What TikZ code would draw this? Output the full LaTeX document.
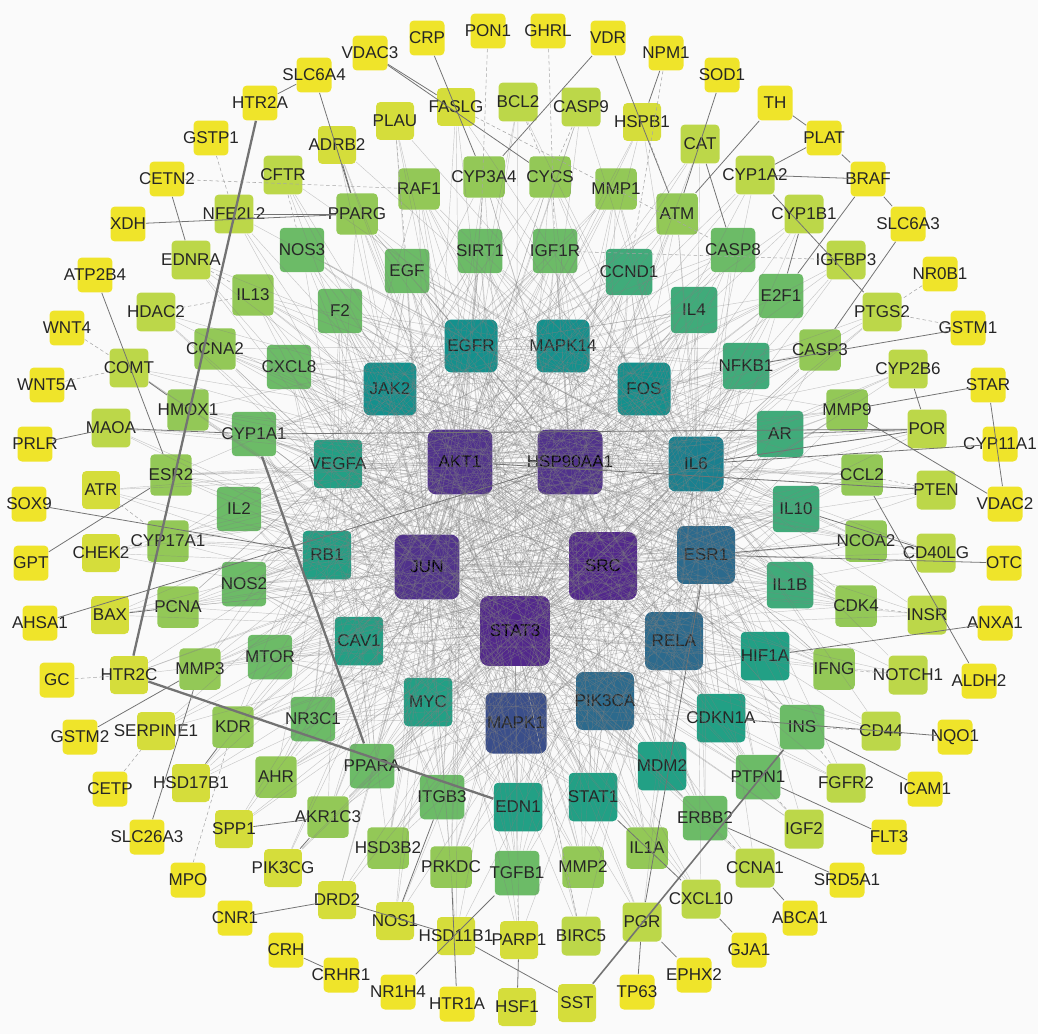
\documentclass[tikz,border=0pt]{standalone}
\usepackage{fontspec}
\setmainfont{Liberation Sans}
\definecolor{bgc}{HTML}{FAFAFA}
\definecolor{c1}{HTML}{EFE42A}
\definecolor{c2}{HTML}{D5DD3B}
\definecolor{c3}{HTML}{BCD749}
\definecolor{c4}{HTML}{93C857}
\definecolor{c5}{HTML}{6CBB67}
\definecolor{c6}{HTML}{40AB7A}
\definecolor{c7}{HTML}{22A085}
\definecolor{c8}{HTML}{14918D}
\definecolor{c9}{HTML}{1A808F}
\definecolor{c10}{HTML}{2C6A8D}
\definecolor{c11}{HTML}{3A4E8A}
\definecolor{c12}{HTML}{50318C}
\definecolor{c13}{HTML}{52278C}
\begin{document}
\begin{tikzpicture}[x=0.02cm, y=-0.02cm,
        gene/.style={rectangle, rounded corners=2.5pt, inner sep=0pt, text=black!85,
            font=\fontsize{9.7}{11}\selectfont,
            execute at begin node={\hbox to 0pt\bgroup\hss},
            execute at end node={\hss\egroup}},
        l1/.style={gene, fill=c1, minimum size=0.70cm},
        l2/.style={gene, fill=c2, minimum size=0.76cm},
        l3/.style={gene, fill=c3, minimum size=0.78cm},
        l4/.style={gene, fill=c4, minimum size=0.83cm},
        l5/.style={gene, fill=c5, minimum size=0.89cm},
        l6/.style={gene, fill=c6, minimum size=0.93cm},
        l7/.style={gene, fill=c7, minimum size=0.97cm},
        l8/.style={gene, fill=c8, minimum size=1.06cm, rounded corners=4pt},
        l9/.style={gene, fill=c9, minimum size=1.10cm, rounded corners=4pt},
        l10/.style={gene, fill=c10, minimum size=1.16cm, rounded corners=4pt},
        l11/.style={gene, fill=c11, minimum size=1.22cm, rounded corners=4pt},
        l12/.style={gene, fill=c12, text=black, minimum size=1.30cm, rounded corners=5pt},
        l13/.style={gene, fill=c13, text=black, minimum size=1.36cm, rounded corners=5pt},
        web/.style={gray, line width=0.25pt, opacity=0.42},
        faint/.style={gray!70, line width=0.3pt, dashed, dash pattern=on 2pt off 1.5pt},
        link/.style={black!55, line width=0.45pt},
        heavy/.style={black!55, line width=1.3pt}]
    \fill[bgc] (0,0) rectangle (1038,1034);

    % outer ring
    \node[l1] (VDAC3) at (370,53) {VDAC3};
    \node[l1] (CRP) at (427,38) {CRP};
    \node[l1] (PON1) at (488,31) {PON1};
    \node[l1] (GHRL) at (548,31) {GHRL};
    \node[l1] (VDR) at (608,38) {VDR};
    \node[l1] (NPM1) at (666,53) {NPM1};
    \node[l1] (SOD1) at (722,75) {SOD1};
    \node[l1] (TH) at (775,103) {TH};
    \node[l1] (PLAT) at (824,138) {PLAT};
    \node[l1] (BRAF) at (868,179) {BRAF};
    \node[l1] (SLC6A3) at (908,224) {SLC6A3};
    \node[l1] (NR0B1) at (940,274) {NR0B1};
    \node[l1] (GSTM1) at (968,328) {GSTM1};
    \node[l1] (STAR) at (988,385) {STAR};
    \node[l1] (CYP11A1) at (1000,444) {CYP11A1};
    \node[l1] (VDAC2) at (1005,504) {VDAC2};
    \node[l1] (OTC) at (1004,563) {OTC};
    \node[l1] (ANXA1) at (995,623) {ANXA1};
    \node[l1] (ALDH2) at (979,681) {ALDH2};
    \node[l1] (NQO1) at (955,737) {NQO1};
    \node[l1] (ICAM1) at (925,789) {ICAM1};
    \node[l1] (FLT3) at (889,837) {FLT3};
    \node[l1] (SRD5A1) at (847,880) {SRD5A1};
    \node[l1] (ABCA1) at (800,918) {ABCA1};
    \node[l1] (GJA1) at (749,950) {GJA1};
    \node[l1] (EPHX2) at (694,975) {EPHX2};
    \node[l1] (TP63) at (637,992) {TP63};
    \node[l2] (SST) at (577,1003) {SST};
    \node[l2] (HSF1) at (517,1007) {HSF1};
    \node[l1] (HTR1A) at (457,1004) {HTR1A};
    \node[l1] (NR1H4) at (398,992) {NR1H4};
    \node[l1] (CRHR1) at (341,975) {CRHR1};
    \node[l1] (CRH) at (286,950) {CRH};
    \node[l1] (CNR1) at (235,918) {CNR1};
    \node[l1] (MPO) at (188,880) {MPO};
    \node[l1] (SLC26A3) at (147,837) {SLC26A3};
    \node[l1] (CETP) at (110,789) {CETP};
    \node[l1] (GSTM2) at (80,737) {GSTM2};
    \node[l1] (GC) at (57,680) {GC};
    \node[l1] (AHSA1) at (40,623) {AHSA1};
    \node[l1] (GPT) at (31,563) {GPT};
    \node[l1] (SOX9) at (29,504) {SOX9};
    \node[l1] (PRLR) at (35,444) {PRLR};
    \node[l1] (WNT5A) at (47,385) {WNT5A};
    \node[l1] (WNT4) at (67,328) {WNT4};
    \node[l1] (ATP2B4) at (95,275) {ATP2B4};
    \node[l1] (XDH) at (128,224) {XDH};
    \node[l1] (CETN2) at (167,179) {CETN2};
    \node[l1] (GSTP1) at (211,138) {GSTP1};
    \node[l1] (HTR2A) at (260,103) {HTR2A};
    \node[l1] (SLC6A4) at (314,75) {SLC6A4};

    % second ring
    \node[l2] (FASLG) at (456,107) {FASLG};
    \node[l3] (BCL2) at (518,102) {BCL2};
    \node[l3] (CASP9) at (581,107) {CASP9};
    \node[l2] (HSPB1) at (642,122) {HSPB1};
    \node[l3] (CAT) at (700,144) {CAT};
    \node[l3] (CYP1A2) at (755,175) {CYP1A2};
    \node[l3] (CYP1B1) at (804,214) {CYP1B1};
    \node[l3] (IGFBP3) at (846,260) {IGFBP3};
    \node[l3] (PTGS2) at (882,312) {PTGS2};
    \node[l3] (CYP2B6) at (908,369) {CYP2B6};
    \node[l3] (POR) at (927,429) {POR};
    \node[l3] (PTEN) at (936,490) {PTEN};
    \node[l3] (CD40LG) at (936,553) {CD40LG};
    \node[l3] (INSR) at (927,615) {INSR};
    \node[l3] (NOTCH1) at (908,675) {NOTCH1};
    \node[l3] (CD44) at (881,731) {CD44};
    \node[l3] (FGFR2) at (846,783) {FGFR2};
    \node[l3] (IGF2) at (804,829) {IGF2};
    \node[l3] (CCNA1) at (755,868) {CCNA1};
    \node[l3] (CXCL10) at (701,899) {CXCL10};
    \node[l3] (PGR) at (642,922) {PGR};
    \node[l3] (BIRC5) at (581,936) {BIRC5};
    \node[l2] (PARP1) at (519,940) {PARP1};
    \node[l2] (HSD11B1) at (456,936) {HSD11B1};
    \node[l2] (NOS1) at (395,921) {NOS1};
    \node[l2] (DRD2) at (337,900) {DRD2};
    \node[l2] (PIK3CG) at (283,868) {PIK3CG};
    \node[l2] (SPP1) at (234,829) {SPP1};
    \node[l2] (HSD17B1) at (191,783) {HSD17B1};
    \node[l2] (SERPINE1) at (156,731) {SERPINE1};
    \node[l2] (HTR2C) at (129,675) {HTR2C};
    \node[l2] (BAX) at (110,615) {BAX};
    \node[l2] (CHEK2) at (101,553) {CHEK2};
    \node[l2] (ATR) at (101,490) {ATR};
    \node[l3] (MAOA) at (111,428) {MAOA};
    \node[l3] (COMT) at (129,368) {COMT};
    \node[l3] (HDAC2) at (156,312) {HDAC2};
    \node[l3] (EDNRA) at (191,260) {EDNRA};
    \node[l3] (NFE2L2) at (234,214) {NFE2L2};
    \node[l3] (CFTR) at (283,175) {CFTR};
    \node[l2] (ADRB2) at (337,145) {ADRB2};
    \node[l2] (PLAU) at (395,121) {PLAU};

    % third ring
    \node[l4] (CYP3A4) at (484,177) {CYP3A4};
    \node[l4] (CYCS) at (550,177) {CYCS};
    \node[l4] (RAF1) at (419,189) {RAF1};
    \node[l4] (MMP1) at (616,189) {MMP1};
    \node[l4] (ATM) at (677,214) {ATM};
    \node[l5] (CASP8) at (733,250) {CASP8};
    \node[l5] (E2F1) at (781,296) {E2F1};
    \node[l4] (CASP3) at (820,350) {CASP3};
    \node[l4] (MMP9) at (847,410) {MMP9};
    \node[l4] (CCL2) at (862,475) {CCL2};
    \node[l4] (NCOA2) at (866,541) {NCOA2};
    \node[l4] (CDK4) at (856,606) {CDK4};
    \node[l4] (IFNG) at (834,669) {IFNG};
    \node[l5] (INS) at (802,727) {INS};
    \node[l5] (PTPN1) at (758,777) {PTPN1};
    \node[l5] (ERBB2) at (705,818) {ERBB2};
    \node[l4] (IL1A) at (647,848) {IL1A};
    \node[l4] (MMP2) at (583,867) {MMP2};
    \node[l5] (TGFB1) at (517,873) {TGFB1};
    \node[l4] (PRKDC) at (451,867) {PRKDC};
    \node[l4] (HSD3B2) at (388,848) {HSD3B2};
    \node[l4] (AKR1C3) at (328,817) {AKR1C3};
    \node[l4] (AHR) at (276,777) {AHR};
    \node[l4] (KDR) at (233,727) {KDR};
    \node[l4] (MMP3) at (200,669) {MMP3};
    \node[l4] (PCNA) at (178,607) {PCNA};
    \node[l4] (CYP17A1) at (168,541) {CYP17A1};
    \node[l4] (ESR2) at (171,475) {ESR2};
    \node[l4] (HMOX1) at (188,410) {HMOX1};
    \node[l4] (CCNA2) at (215,349) {CCNA2};
    \node[l4] (IL13) at (253,295) {IL13};
    \node[l5] (NOS3) at (302,250) {NOS3};
    \node[l4] (PPARG) at (357,214) {PPARG};

    % fourth ring
    \node[l5] (SIRT1) at (480,251) {SIRT1};
    \node[l5] (IGF1R) at (555,251) {IGF1R};
    \node[l5] (EGF) at (407,271) {EGF};
    \node[l6] (CCND1) at (629,272) {CCND1};
    \node[l6] (IL4) at (694,310) {IL4};
    \node[l5] (F2) at (340,311) {F2};
    \node[l5] (CXCL8) at (289,367) {CXCL8};
    \node[l5] (CYP1A1) at (254,434) {CYP1A1};
    \node[l5] (IL2) at (239,509) {IL2};
    \node[l5] (NOS2) at (244,584) {NOS2};
    \node[l5] (MTOR) at (270,657) {MTOR};
    \node[l5] (NR3C1) at (313,719) {NR3C1};
    \node[l5] (PPARA) at (372,766) {PPARA};
    \node[l5] (ITGB3) at (442,797) {ITGB3};
    \node[l7] (EDN1) at (518,807) {EDN1};
    \node[l7] (STAT1) at (593,797) {STAT1};
    \node[l7] (MDM2) at (662,766) {MDM2};
    \node[l7] (CDKN1A) at (721,718) {CDKN1A};
    \node[l7] (HIF1A) at (765,656) {HIF1A};
    \node[l6] (IL1B) at (790,585) {IL1B};
    \node[l6] (IL10) at (796,509) {IL10};
    \node[l6] (AR) at (780,434) {AR};
    \node[l6] (NFKB1) at (746,366) {NFKB1};

    % inner ring
    \node[l8] (EGFR) at (471,346) {EGFR};
    \node[l8] (MAPK14) at (563,346) {MAPK14};
    \node[l8] (JAK2) at (390,389) {JAK2};
    \node[l8] (FOS) at (644,389) {FOS};
    \node[l7] (VEGFA) at (338,464) {VEGFA};
    \node[l9] (IL6) at (696,464) {IL6};
    \node[l7] (RB1) at (327,555) {RB1};
    \node[l10] (ESR1) at (706,555) {ESR1};
    \node[l7] (CAV1) at (359,641) {CAV1};
    \node[l10] (RELA) at (674,641) {RELA};
    \node[l7] (MYC) at (428,702) {MYC};
    \node[l10] (PIK3CA) at (605,701) {PIK3CA};
    \node[l11] (MAPK1) at (516,723) {MAPK1};

    % core
    \node[l12] (AKT1) at (460,462) {AKT1};
    \node[l12] (HSP90AA1) at (570,462) {HSP90AA1};
    \node[l12] (JUN) at (427,567) {JUN};
    \node[l13] (SRC) at (603,566) {SRC};
    \node[l13, minimum size=1.40cm] (STAT3) at (515,631) {STAT3};

    % web of interactions
    \foreach \a in {AKT1,HSP90AA1,JUN,SRC,STAT3}
        \foreach \b in {EGFR,MAPK14,JAK2,FOS,VEGFA,IL6,RB1,ESR1,CAV1,RELA,MYC,PIK3CA,MAPK1,
            SIRT1,IGF1R,EGF,CCND1,IL4,F2,CXCL8,CYP1A1,IL2,NOS2,MTOR,NR3C1,PPARA,ITGB3,EDN1,
            STAT1,MDM2,CDKN1A,HIF1A,IL1B,IL10,AR,NFKB1,CYP3A4,CYCS,RAF1,MMP1,ATM,CASP8,E2F1,
            CASP3,MMP9,CCL2,NCOA2,CDK4,IFNG,INS,PTPN1,ERBB2,IL1A,MMP2,TGFB1,PRKDC,HSD3B2,
            AKR1C3,AHR,KDR,MMP3,PCNA,CYP17A1,ESR2,HMOX1,CCNA2,IL13,NOS3,PPARG}
            \draw[web] (\a) -- (\b);
    \foreach \a in {MAPK1,PIK3CA,RELA,ESR1,IL6,EGFR,MAPK14,FOS,JAK2,VEGFA,MYC,CAV1,RB1}
        \foreach \b in {SIRT1,IGF1R,EGF,CCND1,IL4,F2,CXCL8,CYP1A1,IL2,NOS2,MTOR,NR3C1,PPARA,
            ITGB3,EDN1,STAT1,MDM2,CDKN1A,HIF1A,IL1B,IL10,AR,NFKB1}
            \draw[web] (\a) -- (\b);
    \foreach \a in {IL6,ESR1,EGFR,VEGFA}
        \foreach \b in {CYP3A4,CYCS,RAF1,MMP1,ATM,CASP8,E2F1,CASP3,MMP9,CCL2,NCOA2,CDK4,
            IFNG,INS,PTPN1,ERBB2,IL1A,MMP2,TGFB1,PRKDC,HSD3B2,AKR1C3,AHR,KDR,MMP3,PCNA,
            CYP17A1,ESR2,HMOX1,CCNA2,IL13,NOS3,PPARG}
            \draw[web] (\a) -- (\b);
    \foreach \a in {AKT1,STAT3,IL6,JUN}
        \foreach \b in {FASLG,BCL2,CASP9,HSPB1,CAT,CYP1A2,CYP1B1,IGFBP3,PTGS2,CYP2B6,POR,PTEN,
            CD40LG,INSR,NOTCH1,CD44,FGFR2,IGF2,CCNA1,CXCL10,PGR,BIRC5,PARP1,HSD11B1,NOS1,DRD2,
            PIK3CG,SPP1,HSD17B1,SERPINE1,HTR2C,BAX,CHEK2,ATR,MAOA,COMT,HDAC2,EDNRA,NFE2L2,
            CFTR,ADRB2,PLAU}
            \draw[web] (\a) -- (\b);
    \foreach \a/\b in {AKT1/HSP90AA1,AKT1/JUN,AKT1/SRC,AKT1/STAT3,HSP90AA1/JUN,
        HSP90AA1/SRC,HSP90AA1/STAT3,JUN/SRC,JUN/STAT3,SRC/STAT3}
        \draw[link, gray!60] (\a) -- (\b);

    % outer links
    \foreach \a/\b in {VDAC3/CYCS,CRP/CYP3A4,VDR/CYP3A4,VDR/ATM,NPM1/HSPB1,SOD1/ATM,
        TH/ATM,TH/PLAT,PLAT/BRAF,BRAF/SLC6A3,PLAT/CYP1A2,BRAF/CYP1A2,BRAF/E2F1,
        SLC6A3/CASP3,GSTM1/NFKB1,STAR/VDAC2,STAR/MMP9,CYP11A1/IL6,MMP9/VDAC2,OTC/ESR1,
        ANXA1/HIF1A,ALDH2/CCL2,NQO1/CDKN1A,ICAM1/INS,FLT3/PTPN1,SRD5A1/ERBB2,ABCA1/CCNA1,
        GJA1/CXCL10,EPHX2/PGR,TP63/PGR,HSD11B1/SST,DRD2/HSD11B1,HSF1/PARP1,HTR1A/PRKDC,
        NR1H4/TGFB1,CRHR1/CRH,CNR1/DRD2,SLC26A3/MMP3,GSTM2/MMP3,AHSA1/HSP90AA1,GPT/ESR2,
        SOX9/RB1,PRLR/MAOA,ATP2B4/ESR2,XDH/PPARG,CETN2/EDNRA,SLC6A4/HTR2A,SLC6A4/PPARG,
        VDAC3/FASLG,CYP1A2/PTGS2,CYP2B6/POR,POR/IL6,POR/AR,POR/CYP1A1,MAOA/CYP1A1,
        COMT/HMOX1,BAX/PCNA,SPP1/AKR1C3,PIK3CG/AKR1C3,HSD17B1/KDR,NOS1/ITGB3,
        CXCL10/STAT1,PGR/ESR1,CD40LG/IL10,CAT/CASP8,ADRB2/PPARG,NFE2L2/PPARG,
        NCOA2/ESR1,PTEN/AKT1,CYP1B1/E2F1}
        \draw[link] (\a) -- (\b);
    \foreach \a/\b in {PON1/SIRT1,GHRL/IGF1R,NPM1/CCND1,NR0B1/PTGS2,GSTM1/PTGS2,
        MPO/KDR,CETP/SERPINE1,WNT5A/COMT,WNT4/COMT,GSTP1/NFE2L2,CETN2/RAF1,GC/HTR2C,
        PTEN/CCL2,INSR/CDK4,NOTCH1/IFNG,CD44/INS,FGFR2/INS,IGF2/PTPN1,CCNA1/ERBB2,
        BIRC5/STAT3,PARP1/TGFB1,CHEK2/CYP17A1,ATR/CYP17A1,HDAC2/IL13,EDNRA/IL13,
        CFTR/NOS3,PLAU/EGF,FASLG/CASP8,BCL2/CYCS,CASP9/CYCS,HSPB1/ATM,IGFBP3/IGF1R}
        \draw[faint] (\a) -- (\b);

    % heavy links
    \draw[heavy] (HTR2A) -- (HTR2C);
    \draw[heavy] (HTR2C) -- (EDN1);
    \draw[heavy] (CYP1A1) -- (PPARA);
    \draw[heavy, line width=0.9pt] (SST) -- (INS);
\end{tikzpicture}
\end{document}
